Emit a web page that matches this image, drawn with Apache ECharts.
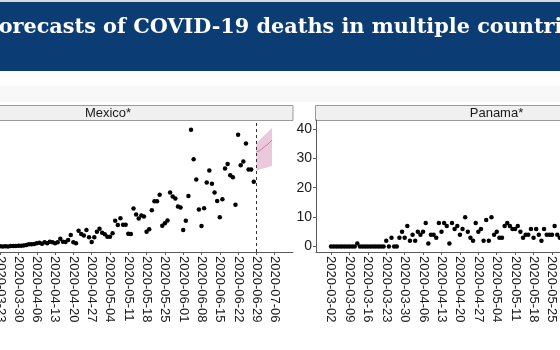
<!DOCTYPE html>
<html>
<head>
<meta charset="utf-8">
<script src="https://cdn.jsdelivr.net/npm/echarts@6/dist/echarts.min.js"></script>
<style>
html, body { margin: 0; padding: 0; background: #fff; }
#chart { width: 560px; height: 350px; }
</style>
</head>
<body>
<div id="chart"></div>
<script>
// ---- data ----
var titleText = 'Forecasts of COVID-19 deaths in multiple countries';

// Mexico daily deaths, one value per day starting at mexicoStart
var mexicoStart = '2020-03-23';
var mexicoDeaths = [
    2, 1, 2, 1, 4, 4, 4,
    7, 8, 9, 14, 20, 20, 23, 30, 35, 26,
    39, 30, 45, 39, 30, 39, 73, 45, 42, 61,
    107, 39, 30, 147, 116, 104, 154, 86, 42, 86,
    138, 166, 129, 114, 91, 91, 123, 240, 200, 263,
    203, 203, 119, 116, 356, 300, 261, 290, 281, 137,
    161, 339, 424, 424, 483, 194, 217, 244, 505, 467,
    449, 375, 365, 155, 240, 472, 1092, 816, 626, 345,
    191, 357, 598, 710, 587, 506, 425, 273, 441, 730,
    771, 667, 648, 391, 1045, 759, 794, 964, 719, 719, 605
];
// Mexico forecast
var mexicoFcDates = ['2020-06-29', '2020-06-30', '2020-07-01', '2020-07-02', '2020-07-03', '2020-07-04', '2020-07-05'];
var mexicoFcMedian = [885, 893, 910, 932, 948, 972, 995];
var mexicoFcLower = [710, 717, 724, 731, 739, 746, 753];
var mexicoFcUpper = [964, 990, 1015, 1040, 1062, 1087, 1111];
var forecastStart = '2020-06-29';

// Panama daily deaths, one value per day starting at panamaStart
var panamaStart = '2020-03-02';
var panamaDeaths = [
    0, 0, 0, 0, 0, 0, 0, 0, 0, 0,
    1, 0, 0, 0, 0, 0, 0, 0, 0, 0,
    0, 2, 0, 3, 0, 0, 3, 5, 3, 7,
    2, 4, 2, 5, 4, 5, 8, 1, 4, 4,
    3, 8, 5, 8, 7, 1, 8, 6, 7, 4,
    6, 10, 5, 3, 2, 8, 5, 6, 2, 9,
    2, 10, 4, 5, 3, 3, 7, 8, 7, 6,
    6, 7, 5, 3, 4, 4, 6, 3, 6, 4,
    2, 6, 4, 4, 4, 7, 4, 3
];

// axis ticks
var weekTicks = ['2020-03-02', '2020-03-09', '2020-03-16', '2020-03-23', '2020-03-30',
    '2020-04-06', '2020-04-13', '2020-04-20', '2020-04-27', '2020-05-04', '2020-05-11',
    '2020-05-18', '2020-05-25', '2020-06-01', '2020-06-08', '2020-06-15', '2020-06-22',
    '2020-06-29', '2020-07-06'];
var panamaYTicks = [0, 10, 20, 30, 40];

// ---- helpers ----
function ts(s) {
    var p = s.split('-');
    return new Date(+p[0], +p[1] - 1, +p[2]).getTime();
}
function pad(n) { return n < 10 ? '0' + n : '' + n; }
function fmtDate(v) {
    var d = new Date(v);
    return d.getFullYear() + '-' + pad(d.getMonth() + 1) + '-' + pad(d.getDate());
}
function daily(start, values) {
    var p = start.split('-');
    return values.map(function (v, i) {
        return [new Date(+p[0], +p[1] - 1, +p[2] + i).getTime(), v];
    });
}

var tickTs = weekTicks.map(ts);
// x extents of each panel (panel edges)
var mxMin = new Date(2020, 1, 25, 4).getTime();
var mxMax = new Date(2020, 6, 13, 0).getTime();
var paMin = new Date(2020, 1, 25, 7).getTime();
var paMax = new Date(2020, 6, 12, 7).getTime();

var fcBand = mexicoFcDates.map(function (d, i) { return [ts(d), mexicoFcLower[i], mexicoFcUpper[i]]; });
var fcMid = mexicoFcDates.map(function (d, i) { return [ts(d), mexicoFcMedian[i]]; });

var axisGrey = '#5a5a5a';
var txt = '#1a1a1a';

// dates on a value axis (ms), weekly ticks placed by hand
function xAxisFor(idx, min, max) {
    return {
        type: 'value', gridIndex: idx, min: min, max: max, scale: true,
        axisLine: { show: true, onZero: false, lineStyle: { color: axisGrey, width: 1 } },
        axisTick: { show: true, length: 3, customValues: tickTs, lineStyle: { color: axisGrey } },
        axisLabel: {
            customValues: tickTs, rotate: -90, margin: 4, hideOverlap: false,
            fontFamily: 'Liberation Sans', fontSize: 13, color: txt,
            formatter: function (v) { return fmtDate(v); }
        },
        splitLine: { show: false }
    };
}

// ribbon between lower and upper, drawn as one polygon
function bandItem(params, api) {
    if (params.dataIndex !== 0) return null;
    var top = [], bottom = [];
    fcBand.forEach(function (r) {
        top.push(api.coord([r[0], r[2]]));
        bottom.unshift(api.coord([r[0], r[1]]));
    });
    return {
        type: 'polygon',
        shape: { points: top.concat(bottom) },
        style: { fill: 'rgba(204,121,167,0.4)' }
    };
}

var chart = echarts.init(document.getElementById('chart'));

var option = {
    animation: false,
    backgroundColor: '#fff',
    graphic: [
        { type: 'rect', shape: { x: 0, y: 0, width: 560, height: 2 }, style: { fill: '#d9d9d9' }, z: 0 },
        { type: 'rect', shape: { x: 0, y: 2, width: 560, height: 69 }, style: { fill: '#0b3d74' }, z: 0 },
        { type: 'text', x: -15, y: 28, z: 1,
          style: { text: titleText, fill: '#fff', font: 'bold 20.8px "DejaVu Serif"',
                   textAlign: 'left', textVerticalAlign: 'middle', align: 'left', verticalAlign: 'middle' } },
        { type: 'rect', shape: { x: 0, y: 86, width: 560, height: 16 }, style: { fill: '#f8f8f8' }, z: 0 },
        // facet strips
        { type: 'rect', shape: { x: -90, y: 105.5, width: 383, height: 15 },
          style: { fill: '#f0f0f0', stroke: '#9a9a9a', lineWidth: 1 }, z: 0 },
        { type: 'rect', shape: { x: 315.5, y: 105.5, width: 380, height: 15 },
          style: { fill: '#f0f0f0', stroke: '#9a9a9a', lineWidth: 1 }, z: 0 },
        { type: 'text', x: 108, y: 113, z: 1,
          style: { text: 'Mexico*', fill: txt, font: '13px "Liberation Sans"',
                   textAlign: 'center', textVerticalAlign: 'middle', align: 'center', verticalAlign: 'middle' } },
        { type: 'text', x: 496.5, y: 113, z: 1,
          style: { text: 'Panama*', fill: txt, font: '13px "Liberation Sans"',
                   textAlign: 'center', textVerticalAlign: 'middle', align: 'center', verticalAlign: 'middle' } }
    ],
    grid: [
        { left: -70, width: 363, top: 120, height: 132, containLabel: false, outerBoundsMode: 'none' },
        { left: 316, width: 363, top: 120, height: 132, containLabel: false, outerBoundsMode: 'none' }
    ],
    xAxis: [xAxisFor(0, mxMin, mxMax), xAxisFor(1, paMin, paMax)],
    yAxis: [
        {
            type: 'value', gridIndex: 0, min: -51.4, max: 1182.7,
            axisLine: { show: true, lineStyle: { color: axisGrey } },
            axisTick: { show: false },
            axisLabel: { show: false },
            splitLine: { show: false }
        },
        {
            type: 'value', gridIndex: 1, min: -1.87, max: 43.06,
            axisLine: { show: true, lineStyle: { color: axisGrey, width: 1 } },
            axisTick: { show: true, length: 3, customValues: panamaYTicks, lineStyle: { color: axisGrey } },
            axisLabel: { customValues: panamaYTicks, margin: 4, fontFamily: 'Liberation Sans', fontSize: 14, color: txt },
            splitLine: { show: false }
        }
    ],
    series: [
        {
            type: 'custom', xAxisIndex: 0, yAxisIndex: 0,
            data: fcBand, encode: { x: 0, y: [1, 2] },
            renderItem: bandItem, silent: true, z: 1
        },
        {
            type: 'line', xAxisIndex: 0, yAxisIndex: 0, z: 2,
            data: fcMid, symbol: 'none', lineStyle: { color: '#cc79a7', width: 1 }
        },
        {
            type: 'scatter', xAxisIndex: 0, yAxisIndex: 0,
            data: daily(mexicoStart, mexicoDeaths),
            symbolSize: 4.5, itemStyle: { color: '#000', opacity: 1 },
            markLine: {
                silent: true, symbol: 'none', label: { show: false },
                lineStyle: { color: '#333', type: [3, 3], width: 1 },
                data: [{ xAxis: ts(forecastStart) }]
            }
        },
        {
            type: 'scatter', xAxisIndex: 1, yAxisIndex: 1,
            data: daily(panamaStart, panamaDeaths),
            symbolSize: 4.5, itemStyle: { color: '#000', opacity: 1 }
        }
    ]
};

chart.setOption(option);
</script>
</body>
</html>
